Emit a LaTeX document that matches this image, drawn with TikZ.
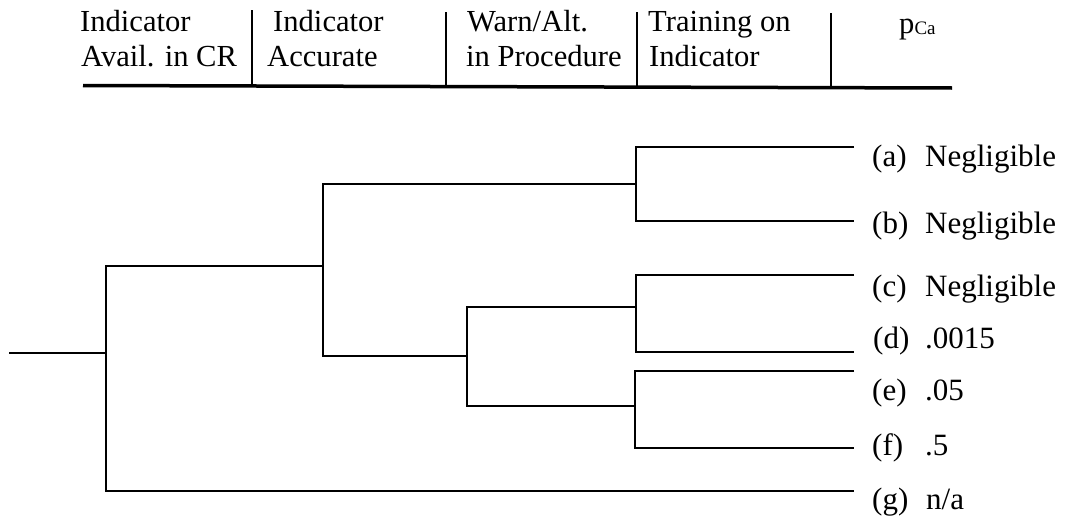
\documentclass[tikz,border=0pt]{standalone}
\usepackage{fontspec}
\setmainfont{Liberation Serif}
\begin{document}
\begin{tikzpicture}[x=1pt,y=-1pt,
  tree/.style={line width=2.8pt,line join=miter},
  sep/.style={line width=2pt},
  hdr/.style={anchor=base west,inner sep=0pt,font=\fontsize{30.6}{35}\selectfont},
  lbl/.style={anchor=base west,inner sep=0pt,font=\fontsize{31}{36}\selectfont}]
\useasboundingbox (0,0) rectangle (1068,522);
% header
\node[hdr] (h1a) at (80,31) {Indicator};
\node[hdr] (h1b) at (81,66) {Avail. in CR};
\node[hdr] (h2a) at (273,31) {Indicator};
\node[hdr] (h2b) at (267,66) {Accurate};
\node[hdr] (h3a) at (467,31) {Warn/Alt.};
\node[hdr] (h3b) at (466,66) {in Procedure};
\node[hdr] (h4a) at (648,31) {Training on};
\node[hdr] (h4b) at (649,66) {Indicator};
\node[hdr] (h5) at (899,33) {p\raisebox{-1pt}{\fontsize{19}{19}\selectfont Ca}};
\draw[sep] (252,10) -- (252,86);
\draw[sep] (446,12) -- (446,86);
\draw[sep] (637,12) -- (637,87);
\draw[sep] (831,13) -- (831,87);
\draw[line width=3.5pt] (83,85.5) -- (952,88);
% tree
\coordinate (s) at (9,353);
\coordinate (A) at (106,353);
\coordinate (B) at (323,266);
\coordinate (C) at (636,184);
\coordinate (D) at (467,356);
\coordinate (E) at (636,307);
\coordinate (F) at (635,406);
\coordinate (ea) at (854,147);
\coordinate (eb) at (854,221);
\coordinate (ec) at (854,275);
\coordinate (ed) at (854,352);
\coordinate (ee) at (854,371);
\coordinate (ef) at (854,448);
\coordinate (eg) at (854,491);
\draw[tree] (s) -- (A);
\draw[tree] (B) -- (A |- B) -- (A |- eg) -- (eg);
\draw[tree] (C) -- (B |- C) -- (B |- D) -- (D);
\draw[tree] (ea) -- (C |- ea) -- (C |- eb) -- (eb);
\draw[tree] (E) -- (D |- E) -- (D |- F) -- (F);
\draw[tree] (ec) -- (E |- ec) -- (E |- ed) -- (ed);
\draw[tree] (ee) -- (F |- ee) -- (F |- ef) -- (ef);
% labels
\node[lbl] (la) at (872,166) {(a)};
\node[lbl] (va) at (925,166) {Negligible};
\node[lbl] (lb) at (872,233) {(b)};
\node[lbl] (vb) at (925,233) {Negligible};
\node[lbl] (lc) at (872,296) {(c)};
\node[lbl] (vc) at (925,296) {Negligible};
\node[lbl] (ld) at (873,348) {(d)};
\node[lbl] (vd) at (925,348) {.0015};
\node[lbl] (le) at (872,400) {(e)};
\node[lbl] (ve) at (925,400) {.05};
\node[lbl] (lf) at (872,455) {(f)};
\node[lbl] (vf) at (925,455) {.5};
\node[lbl] (lg) at (872,509) {(g)};
\node[lbl] (vg) at (926,509) {n/a};
\end{tikzpicture}
\end{document}
